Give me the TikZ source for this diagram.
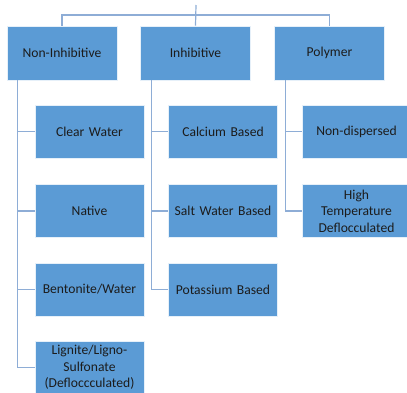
\documentclass[tikz,border=0pt]{standalone}
\usepackage{fontspec}
\setmainfont{Carlito}
\definecolor{boxblue}{HTML}{5B9BD5}
\definecolor{linkblue}{HTML}{8EADD6}
\definecolor{ink}{HTML}{1C1C1C}
\tikzset{
  group/.style={fill=boxblue,draw=white!85!boxblue,line width=0.8pt,minimum width=110pt,minimum height=54pt,text width=106pt,align=center,inner sep=1pt,text=ink,font=\fontsize{13.6}{16.5}\selectfont},
  member/.style={group,minimum width=109pt,minimum height=53pt},
  link/.style={draw=linkblue,line width=1.2pt}
}
\begin{document}
\begin{tikzpicture}[x=1pt,y=1pt]
\def	\gi	{11};
\useasboundingbox (0,0) rectangle (407,-392);
% groups
\node[group] (noninh) at (62,-53) {Non-Inhibitive};
\node[group] (inh) at (195.5,-53) {Inhibitive};
\node[group] (poly) at (329.5,-53) {Polymer};
% members
\node[member] (clear) at (89.5,-131.5) {Clear Water};
\node[member] (native) at (89.5,-211) {Native};
\node[member] (bento) at (89.5,-289.5) {Bentonite/Water};
\node[member] (ligno) at (89.5,-367.5) {Lignite/Ligno-\\Sulfonate\\(Defloccculated)};
\node[member] (calc) at (223,-131.5) {Calcium Based};
\node[member] (salt) at (223,-211) {Salt Water Based};
\node[member] (potas) at (223,-289.5) {Potassium Based};
\node[member] (nondisp) at (356.5,-131.5) {Non-dispersed};
\node[member] (hightemp) at (356.5,-211) {High\\Temperature\\Deflocculated};
% links
\coordinate (root) at (196,-5);
\coordinate (bus) at (196,-15);
\draw[link] (root) -- (inh.north);
\draw[link] (bus) -| (noninh.north);
\draw[link] (bus) -| (poly.north);
\foreach \m in {clear,native,bento,ligno}
  \draw[link] ([xshift=\gi]noninh.south west) |- (\m.west);
\foreach \m in {calc,salt,potas}
  \draw[link] ([xshift=\gi]inh.south west) |- (\m.west);
\foreach \m in {nondisp,hightemp}
  \draw[link] ([xshift=\gi]poly.south west) |- (\m.west);
\end{tikzpicture}
\end{document}
